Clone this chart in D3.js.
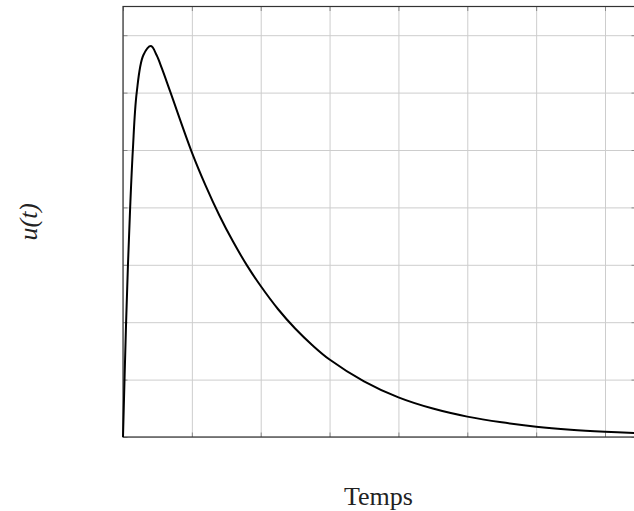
<!DOCTYPE html>
<html>
<head>
<meta charset="utf-8">
<script src="https://cdn.jsdelivr.net/npm/d3@7"></script>
<style>
  body { margin: 0; background: #fff; }
  text { font-family: "Liberation Serif", "DejaVu Serif", serif; fill: #222; }
</style>
</head>
<body>
<div id="graph-container"></div>
<script>
var w = 634;
var h = 511;

// values
var times = [0, 0.022, 0.045, 0.072, 0.104, 0.143, 0.199, 0.295, 0.406, 0.489, 0.562, 0.682, 1.0,
             1.2, 1.4, 1.6, 1.8, 2.0, 2.25, 2.5, 2.75, 3.0, 3.5, 4.0, 4.5, 5.0, 5.5, 6.0, 6.5, 7.0, 7.45];
var values = [0, 1.0, 2.0, 3.0, 4.0, 5.0, 6.0, 6.65, 6.81, 6.65, 6.43, 6.03, 4.96,
              4.38, 3.86, 3.40, 2.99, 2.63, 2.23, 1.89, 1.60, 1.35, 0.97, 0.69, 0.495, 0.355, 0.255, 0.18, 0.128, 0.092, 0.068];
var xTicks = [0, 1, 2, 3, 4, 5, 6, 7];
var yTicks = [0, 1, 2, 3, 4, 5, 6, 7];

// plot box ("top" is taken by window.top, so mTop etc.)
var mLeft = 123, mRight = 636, mTop = 6.5, mBottom = 437;

var x = d3.scaleLinear().domain([0, 7.45]).range([mLeft, mRight]);
var y = d3.scaleLinear().domain([0, 7.5]).range([mBottom, mTop]);

var svg = d3.select("#graph-container")
  .append("svg")
  .attr("width", w)
  .attr("height", h);

// grid
svg.append("g")
  .attr("transform", "translate(0," + mBottom + ")")
  .call(d3.axisBottom(x).tickValues(xTicks).tickSize(-(mBottom - mTop)).tickFormat(""))
  .call(function(g) {
    g.select(".domain").remove();
    g.selectAll("line").attr("stroke", "#cdcdcd").attr("stroke-width", 1);
  });

svg.append("g")
  .attr("transform", "translate(" + mLeft + ",0)")
  .call(d3.axisLeft(y).tickValues(yTicks).tickSize(-(mRight - mLeft)).tickFormat(""))
  .call(function(g) {
    g.select(".domain").remove();
    g.selectAll("line").attr("stroke", "#cdcdcd").attr("stroke-width", 1);
  });

// small inward ticks on every side
var tick = 4.5;
function ticks(g) {
  g.select(".domain").remove();
  g.selectAll("line").attr("stroke", "#888").attr("stroke-width", 1);
}
svg.append("g").attr("transform", "translate(0," + mBottom + ")")
  .call(d3.axisBottom(x).tickValues(xTicks).tickSize(-tick).tickFormat("")).call(ticks);
svg.append("g").attr("transform", "translate(0," + mTop + ")")
  .call(d3.axisTop(x).tickValues(xTicks).tickSize(-tick).tickFormat("")).call(ticks);
svg.append("g").attr("transform", "translate(" + mLeft + ",0)")
  .call(d3.axisLeft(y).tickValues(yTicks).tickSize(-tick).tickFormat("")).call(ticks);
svg.append("g").attr("transform", "translate(" + mRight + ",0)")
  .call(d3.axisRight(y).tickValues(yTicks).tickSize(-tick).tickFormat("")).call(ticks);

// frame
svg.append("rect")
  .attr("x", mLeft)
  .attr("y", mTop)
  .attr("width", mRight - mLeft)
  .attr("height", mBottom - mTop)
  .attr("fill", "none")
  .attr("stroke", "#333")
  .attr("stroke-width", 1.2);

// curve
var line = d3.line()
  .x(function(d, i) { return x(times[i]); })
  .y(function(d) { return y(d); })
  .curve(d3.curveCatmullRom.alpha(0.5));

svg.append("path")
  .datum(values)
  .attr("d", line)
  .attr("fill", "none")
  .attr("stroke", "#000")
  .attr("stroke-width", 2);

// labels
svg.append("text")
  .text("Temps")
  .attr("x", (mLeft + mRight) / 2 - 1)
  .attr("y", 505)
  .attr("text-anchor", "middle")
  .style("font-size", "26px");

svg.append("text")
  .text("u(t)")
  .attr("transform", "translate(37," + ((mTop + mBottom) / 2) + ") rotate(-90)")
  .attr("text-anchor", "middle")
  .style("font-size", "26px")
  .style("font-style", "italic");
</script>
</body>
</html>
